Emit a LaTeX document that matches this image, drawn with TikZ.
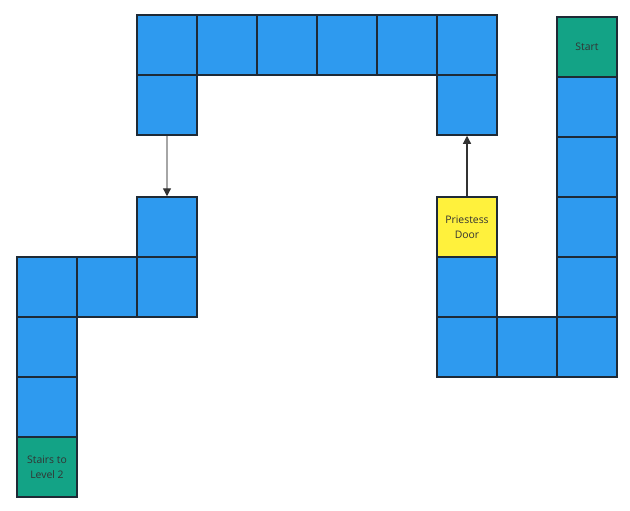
\documentclass[tikz,border=0pt]{standalone}
\usepackage{fontspec}
\setmainfont{Open Sans}
\usetikzlibrary{arrows.meta}
\definecolor{cellblue}{HTML}{2E9AEF}
\definecolor{cellgreen}{HTML}{13A386}
\definecolor{cellyellow}{HTML}{FFF13C}
\definecolor{celledge}{HTML}{1E2A36}
\tikzset{
  cell/.style={draw=celledge,line width=0.75pt,fill=cellblue,minimum size=30pt,inner sep=0pt},
  endcell/.style={cell,fill=cellgreen,align=center,font=\fontsize{5.2}{7.5}\selectfont,text=black!80},
  doorcell/.style={cell,fill=cellyellow,align=center,font=\fontsize{5.2}{7.5}\selectfont,text=black!80},
  link/.style={-{Triangle[length=4pt,width=4pt,color=black!80]},line width=0.6pt}
}

\begin{document}
\begin{tikzpicture}[x=0.5pt,y=-0.5pt]
      \useasboundingbox (0,0) rectangle (630,510);
      % top corridor
      \foreach \i/\x in {1/167,2/227,3/287,4/347,5/407,6/467}
        \node[cell] (t\i) at (\x,45) {};
      \node[cell] (tl) at (167,105) {};
      \node[cell] (tr) at (467,105) {};
      % right side
      \node[endcell] (start) at (587,47) {Start};
      \foreach \i/\y in {1/107,2/167,3/227,4/287,5/347}
        \node[cell] (r\i) at (587,\y) {};
      \node[cell] (b1) at (467,347) {};
      \node[cell] (b2) at (527,347) {};
      \node[cell] (pb) at (467,287) {};
      \node[doorcell] (door) at (467,227) {Priestess\\Door};
      % left side
      \node[cell] (l0) at (167,227) {};
      \foreach \i/\x in {1/47,2/107,3/167}
        \node[cell] (m\i) at (\x,287) {};
      \node[cell] (d1) at (47,347) {};
      \node[cell] (d2) at (47,407) {};
      \node[endcell] (stairs) at (47,467) {Stairs to\\Level 2};
      % links
      \draw[link,draw=gray!70] (tl.south) -- (l0.north);
      \draw[link,draw=black!80] (door.north) -- (tr.south);
\end{tikzpicture}
\end{document}
